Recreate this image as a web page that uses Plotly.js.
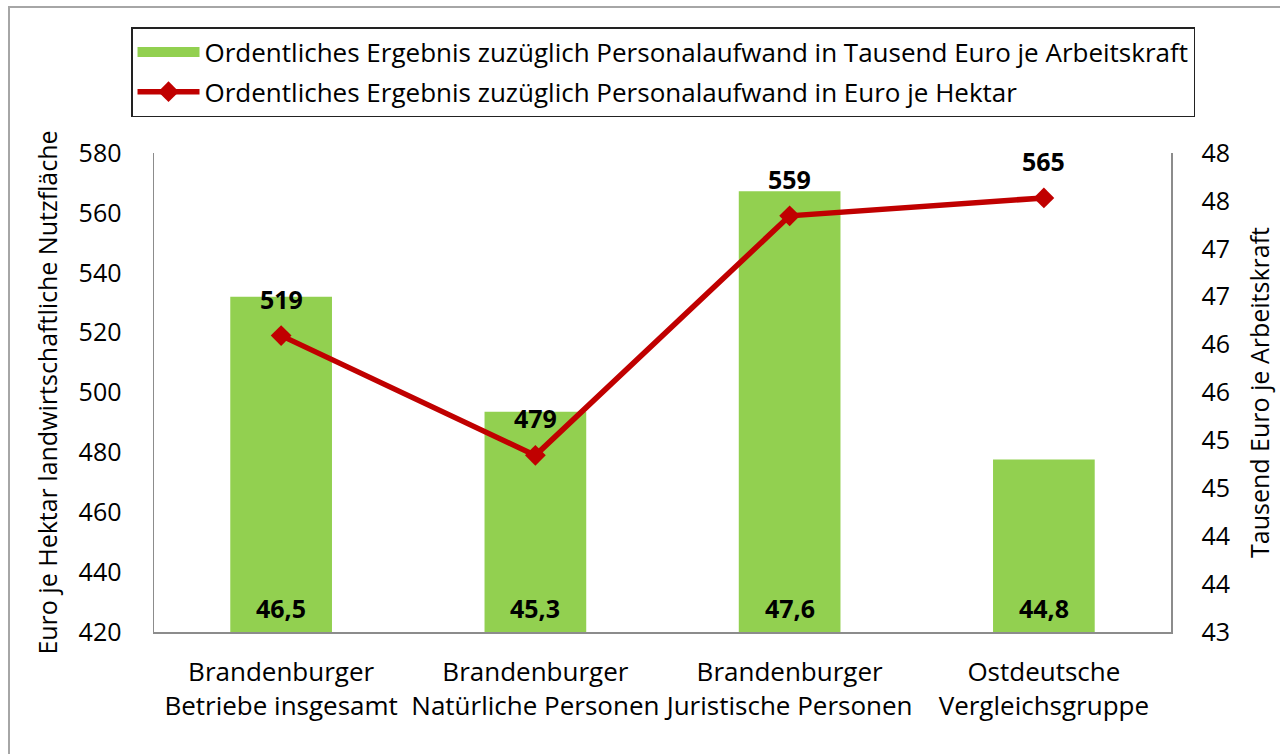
<!DOCTYPE html>
<html><head><meta charset="utf-8">
<script src="https://cdn.plot.ly/plotly-3.0.1.min.js"></script>
<style>
html,body{margin:0;padding:0;background:#fff;}
#wrap{position:relative;width:1280px;height:754px;overflow:hidden;}
#chart{width:1280px;height:754px;}
#frame{position:absolute;left:8px;top:6px;width:1290px;height:770px;border-left:2px solid #a6a6a6;border-top:2px solid #a6a6a6;pointer-events:none;}
</style></head>
<body>
<div id="wrap"><div id="chart"></div><div id="frame"></div></div>
<script>
const categories = ["Brandenburger<br>Betriebe insgesamt", "Brandenburger<br>Natürliche Personen", "Brandenburger<br>Juristische Personen", "Ostdeutsche<br>Vergleichsgruppe"];
const perWorker = [46.5, 45.3, 47.6, 44.8];      // Tausend Euro je Arbeitskraft (bars, right axis)
const perHectare = [519, 479, 559, 565];          // Euro je Hektar (line, left axis)
const barName = "Ordentliches Ergebnis zuzüglich Personalaufwand in Tausend Euro je Arbeitskraft";
const lineName = "Ordentliches Ergebnis zuzüglich Personalaufwand in Euro je Hektar";
const leftTitle = "Euro je Hektar landwirtschaftliche Nutzfläche";
const rightTitle = "Tausend Euro je Arbeitskraft";
const rightTickVals = [43, 43.5, 44, 44.5, 45, 45.5, 46, 46.5, 47, 47.5, 48];

const FONT = "Open Sans, DejaVu Sans, sans-serif";
const fmt = v => v.toFixed(1).replace(".", ",");

const traces = [
  {type: "bar", name: barName, x: categories, y: perWorker, yaxis: "y",
   marker: {color: "#92D050"}, width: 0.4, showlegend: false, hoverinfo: "skip"},
  // legend entry for the bars (wide green swatch like the original)
  {type: "scatter", mode: "lines", name: barName, x: [null], y: [null], yaxis: "y",
   line: {color: "#92D050", width: 16}, legendgroup: "a", showlegend: true, hoverinfo: "skip"},
  {type: "scatter", mode: "lines+markers", name: lineName, x: categories, y: perHectare, yaxis: "y2",
   line: {color: "#C00000", width: 5.5}, marker: {symbol: "diamond", size: 16, color: "#C00000"},
   legendgroup: "b", hoverinfo: "skip"}
];

const annotations = [];
categories.forEach((c, i) => {
  annotations.push({x: c, y: 43, xref: "x", yref: "y", text: "<b>" + fmt(perWorker[i]) + "</b>",
    showarrow: false, yanchor: "middle", yshift: 24, font: {family: FONT, size: 25, color: "#000"}});
  annotations.push({x: c, y: perHectare[i], xref: "x", yref: "y2", text: "<b>" + perHectare[i] + "</b>",
    showarrow: false, yanchor: "middle", yshift: 37, font: {family: FONT, size: 25, color: "#000"}});
});

const layout = {
  width: 1280, height: 754,
  margin: {l: 154, r: 109, t: 153, b: 122},
  paper_bgcolor: "#fff", plot_bgcolor: "#fff",
  font: {family: FONT, size: 25, color: "#000"},
  showlegend: true,
  legend: {x: -0.0226, xanchor: "left", y: 1.263, yanchor: "top", orientation: "v",
    bordercolor: "#222", borderwidth: 1.5, bgcolor: "#fff", itemwidth: 62,
    tracegroupgap: 3, traceorder: "grouped",
    font: {family: FONT, size: 26, color: "#000"}},
  xaxis: {type: "category", showgrid: false, zeroline: false, showline: true, linecolor: "#8c8c8c", linewidth: 1.5,
    ticks: "", ticklabelstandoff: 16, tickfont: {family: FONT, size: 26, color: "#000"}, fixedrange: true},
  yaxis: {side: "right", range: [43, 48], tickvals: rightTickVals, ticktext: rightTickVals.map(v => String(Math.round(v + 1e-9))),
    showgrid: false, zeroline: false, showline: true, linecolor: "#8c8c8c", linewidth: 1.5, ticks: "",
    ticklabelstandoff: 24, tickfont: {family: FONT, size: 25, color: "#000"},
    title: {text: rightTitle, standoff: 22, font: {family: FONT, size: 25, color: "#000"}}},
  yaxis2: {side: "left", overlaying: "y", range: [420, 580], dtick: 20, tick0: 420,
    showgrid: false, zeroline: false, showline: true, linecolor: "#8c8c8c", linewidth: 1.5, ticks: "",
    ticklabelstandoff: 26, tickfont: {family: FONT, size: 25, color: "#000"},
    title: {text: leftTitle, standoff: 14, font: {family: FONT, size: 25, color: "#000"}}},
  annotations: annotations
};

Plotly.newPlot("chart", traces, layout, {displayModeBar: false, staticPlot: true});
</script>
</body></html>
